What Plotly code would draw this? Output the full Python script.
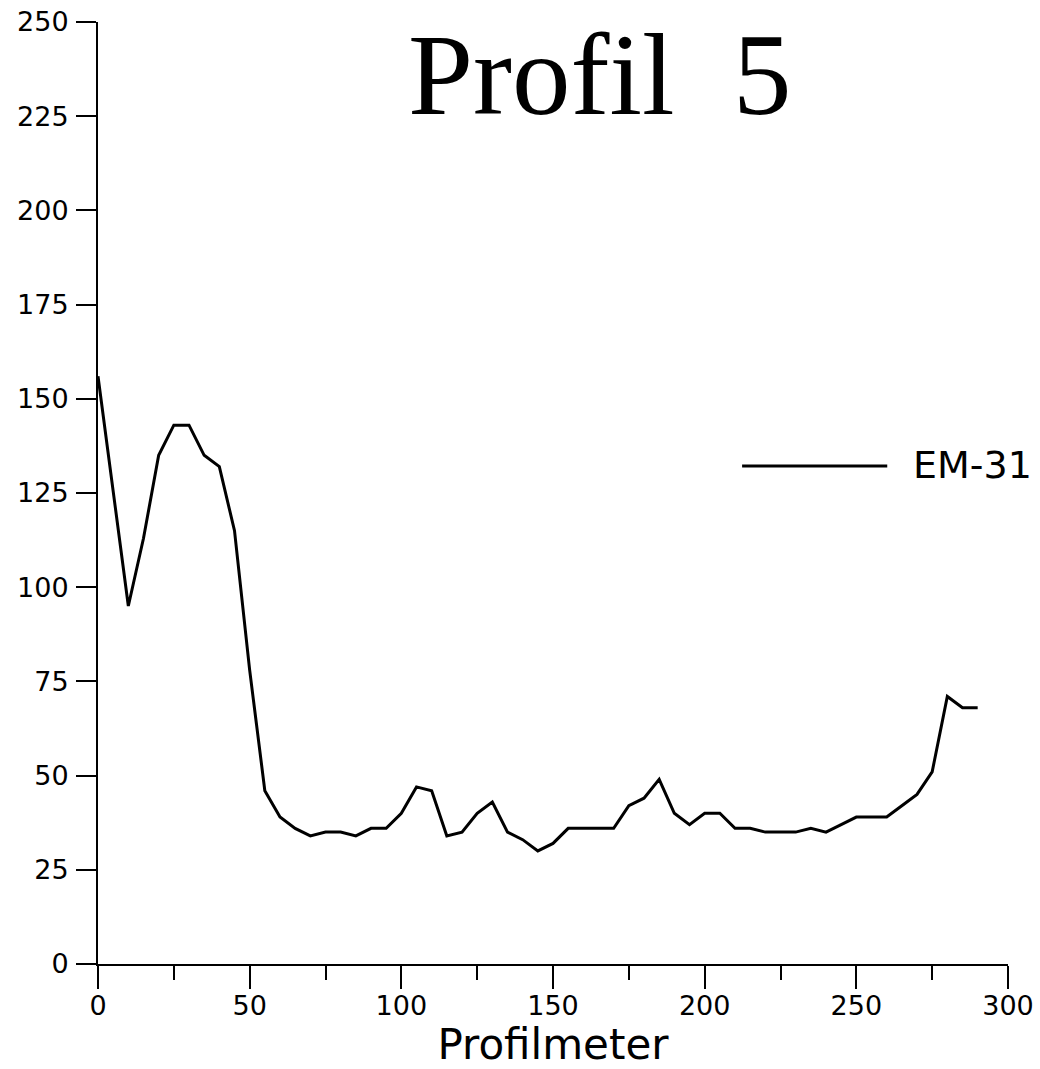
import plotly.graph_objects as go

# Data
profilmeter = list(range(0, 295, 5))
em31 = [156, 126, 95, 113, 135, 143, 143, 135, 132, 115,
        78, 46, 39, 36, 34, 35, 35, 34, 36, 36,
        40, 47, 46, 34, 35, 40, 43, 35, 33, 30,
        32, 36, 36, 36, 36, 42, 44, 49, 40, 37,
        40, 40, 36, 36, 35, 35, 35, 36, 35, 37,
        39, 39, 39, 42, 45, 51, 71, 68, 68]

x_ticks = [0, 50, 100, 150, 200, 250, 300]
y_ticks = [0, 25, 50, 75, 100, 125, 150, 175, 200, 225, 250]

title_text = "Profil\u00a0\u00a05"
x_title = "Profilmeter"
series_name = "EM-31"

fig = go.Figure()
fig.add_trace(go.Scatter(
    x=profilmeter, y=em31, mode="lines", name=series_name,
    line=dict(color="black", width=3), showlegend=False,
))

sans = "DejaVu Sans, Liberation Sans, sans-serif"
tick_font = dict(family=sans, size=27, color="black")

fig.update_layout(
    width=1040, height=1069,
    margin=dict(l=98, r=32, t=22, b=105),
    paper_bgcolor="white", plot_bgcolor="white",
    xaxis=dict(
        range=[0, 300], tickvals=x_ticks, ticktext=[str(v) for v in x_ticks],
        showline=True, linecolor="black", linewidth=2, automargin=False,
        ticks="outside", ticklen=23, tickwidth=2, tickcolor="black",
        minor=dict(dtick=25, tick0=0, ticks="outside", ticklen=14, tickwidth=2, tickcolor="black"),
        showgrid=False, zeroline=False, tickfont=tick_font, ticklabelstandoff=-6,
        title=dict(text=x_title, font=dict(family=sans, size=42, color="black"), standoff=2),
    ),
    yaxis=dict(
        range=[0, 250], tickvals=y_ticks, ticktext=[str(v) for v in y_ticks],
        showline=True, linecolor="black", linewidth=2, automargin=False,
        ticks="outside", ticklen=20, tickwidth=2, tickcolor="black",
        showgrid=False, zeroline=False, tickfont=tick_font, ticklabelstandoff=2,
    ),
    annotations=[
        dict(text=title_text, xref="paper", yref="paper", x=0.5517, y=1.0145,
             xanchor="center", yanchor="top", showarrow=False,
             font=dict(family="Liberation Serif, DejaVu Serif, serif", size=117, color="black")),
        dict(text=series_name, xref="paper", yref="paper", x=0.893, y=0.5300,
             xanchor="left", yanchor="middle", showarrow=False,
             font=dict(family=sans, size=38, color="black")),
    ],
    shapes=[
        dict(type="line", xref="paper", yref="paper", x0=0.7078, x1=0.8673, y0=0.5286, y1=0.5286,
             line=dict(color="black", width=3)),
    ],
)

fig.write_html("out.html", config={"displayModeBar": False},
               post_script="document.body.style.margin='0';document.body.style.overflow='hidden';")
